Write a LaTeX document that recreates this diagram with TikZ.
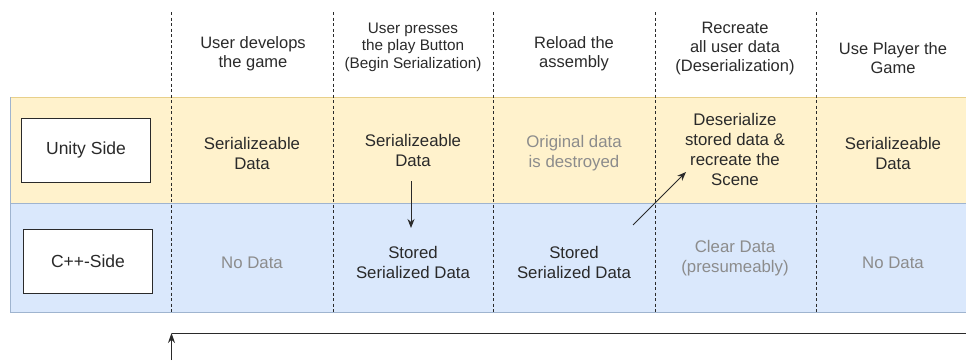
\documentclass[tikz,border=0pt]{standalone}
\usepackage{fontspec}
\setmainfont{Liberation Sans}
\usetikzlibrary{arrows.meta}
\definecolor{yel}{HTML}{FFF2CC}
\definecolor{yelb}{HTML}{E8D08A}
\definecolor{blu}{HTML}{DAE8FC}
\definecolor{blub}{HTML}{9FB4CF}
\definecolor{txt}{HTML}{2A2A2A}
\definecolor{gtxt}{HTML}{8C8C8C}
\begin{document}
\begin{tikzpicture}[x=1pt,y=-1pt,
  cell/.style={align=center,font=\fontsize{16.8}{20}\selectfont,text=txt,inner sep=0pt},
  gcell/.style={cell,text=gtxt},
  hdr/.style={cell,font=\fontsize{16.5}{19}\selectfont},
  shdr/.style={cell,font=\fontsize{15.3}{17.5}\selectfont},
  sidebox/.style={draw=txt,fill=white,line width=1pt,minimum width=129pt,minimum height=64pt,font=\fontsize{17.5}{20}\selectfont,text=txt},
  sep/.style={dashed,dash pattern=on 3pt off 2.5pt,line width=0.7pt,draw=txt},
  arr/.style={-{Stealth[length=9pt,width=7pt]},line width=1pt,draw=txt}]
\useasboundingbox (0,0) rectangle (966,360);
% bands
\fill[yel] (10,97) rectangle (966,203);
\draw[yelb,line width=0.8pt] (10,97) -- (966,97);
\fill[blu] (10,203) rectangle (966,312);
\draw[blub,line width=0.8pt] (10,203) -- (966,203);
\draw[blub,line width=0.8pt] (10,312) -- (966,312);
\draw[blub,line width=0.6pt] (10,97) -- (10,312);
% separators
\foreach \x in {171,333,493,655,816} \draw[sep] (\x,12) -- (\x,312);
% headers
\node[hdr] (h1) at (253,54) {User develops\\the game};
\node[shdr] (h2) at (413,47) {User presses\\the play Button\\(Begin Serialization)};
\node[hdr] (h3) at (574,54) {Reload the\\assembly};
\node[hdr] (h4) at (735,49) {Recreate\\all user data\\(Deserialization)};
\node[hdr] (h5) at (893,58) {Use Player the\\Game};
% side boxes
\node[sidebox] (unity) at (86,150) {Unity Side};
\node[sidebox] (cpp) at (88,261) {C++-Side};
% unity row
\node[cell] (u1) at (252,153) {Serializeable\\Data};
\node[cell] (u2) at (413,150) {Serializeable\\Data};
\node[gcell] (u3) at (574,153) {Original data\\is destroyed};
\node[cell] (u4) at (735,149) {Deserialize\\stored data \&\\recreate the\\Scene};
\node[cell] (u5) at (893,153) {Serializeable\\Data};
% c++ row
\node[gcell] (c1) at (252,263) {No Data};
\node[cell] (c2) at (413,262) {Stored\\Serialized Data};
\node[cell] (c3) at (574,262) {Stored\\Serialized Data};
\node[gcell] (c4) at (735,258) {Clear Data\\(presumeably)};
\node[gcell] (c5) at (893,263) {No Data};
% arrows
\coordinate (a2s) at (411,181);
\coordinate (a2e) at (411,228);
\draw[arr] (a2s) -- (a2e);
\coordinate (a3s) at (633,225);
\coordinate (a3e) at (686,172);
\draw[arr] (a3s) -- (a3e);
% loop back
\coordinate (lr) at (966,333);
\coordinate (lc) at (171.5,333);
\coordinate (lb) at (171.5,360);
\draw[line width=1pt,draw=txt] (lr) -- (lc);
\draw[-{Stealth[length=10pt,width=7pt]},line width=0.9pt,draw=txt] (lb) -- (lc);
\end{tikzpicture}
\end{document}
